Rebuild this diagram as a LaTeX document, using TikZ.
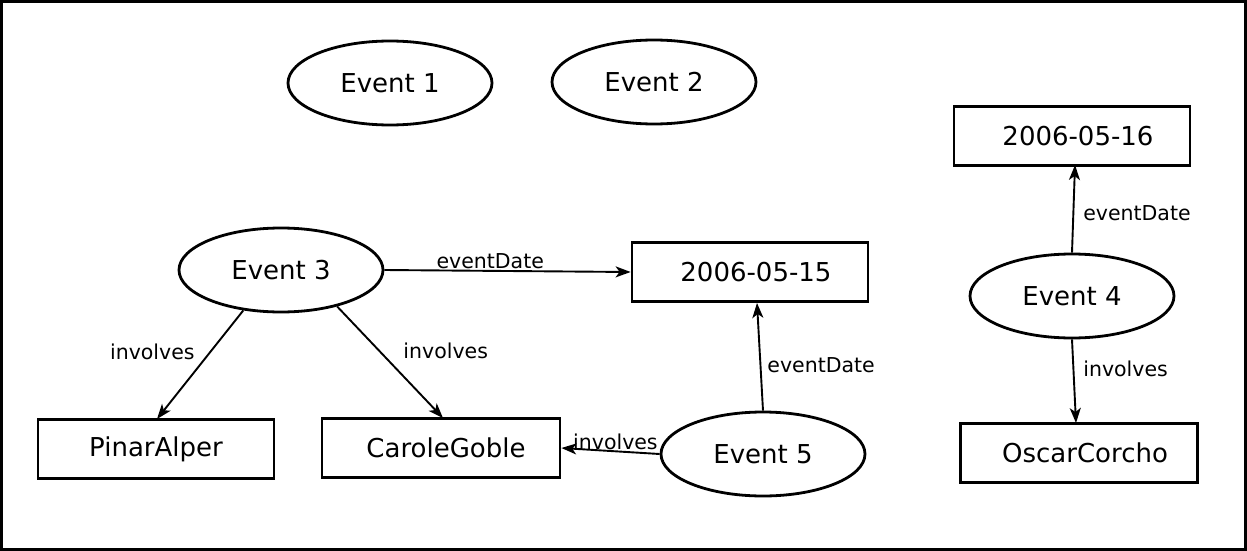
\documentclass[tikz,border=0pt]{standalone}
\usepackage{fontspec}
\setmainfont{DejaVu Sans}
\usetikzlibrary{shapes.geometric,arrows.meta}
\begin{document}
\begin{tikzpicture}[x=1pt,y=-1pt,
  ev/.style={ellipse,draw,line width=2.8pt,minimum width=204pt,minimum height=84pt,inner sep=0pt,font=\fontsize{26}{31}\selectfont},
  lit/.style={rectangle,draw,line width=2.8pt,minimum width=236pt,minimum height=59pt,inner sep=0pt,font=\fontsize{26}{31}\selectfont},
  rel/.style={line width=1.9pt,-{Stealth[length=15pt,width=11pt,inset=4pt]}},
  lab/.style={font=\fontsize{20.5}{24}\selectfont,inner sep=1pt}]
\useasboundingbox (0,0) rectangle (1247,551);
\draw[line width=3pt] (1.5,1.5) rectangle (1245.5,549.5);
\node[ev] (e1) at (390,83) {Event 1};
\node[ev] (e2) at (654,82) {Event 2};
\node[lit] (d16) at (1072,136) {\hspace{12pt}2006-05-16};
\node[ev] (e3) at (281,270) {Event 3};
\node[lit] (d15) at (750,272) {\hspace{12pt}2006-05-15};
\node[ev] (e4) at (1072,296) {Event 4};
\node[lit] (pa) at (156,449) {PinarAlper};
\node[lit,minimum width=238pt] (cg) at (441,448) {\hspace{10pt}CaroleGoble};
\node[ev] (e5) at (763,454) {Event 5};
\node[lit,minimum width=237pt] (oc) at (1079,453) {\hspace{12pt}OscarCorcho};
\coordinate (pat) at (157,419);
\coordinate (cgt) at (443,418);
\coordinate (oct) at (1076,423);
\coordinate (d16b) at (1075,165);
\coordinate (d15b) at (757,303);
\draw[rel] (e3.east) -- node[lab,above,pos=0.43] {eventDate} (d15.west);
\draw[rel] (e3.227) -- node[lab,pos=0.38,left=14pt] {involves} (pat);
\draw[rel] (e3.-33) -- node[lab,pos=0.4,right=22pt] {involves} (cgt);
\draw[rel] (e5.west) -- node[lab,above,pos=0.45] {involves} (cg.east);
\draw[rel] (e5.north) -- node[lab,right=5pt,pos=0.42] {eventDate} (d15b);
\draw[rel] (e4.north) -- node[lab,right=8pt,pos=0.45] {eventDate} (d16b);
\draw[rel] (e4.south) -- node[lab,right=8pt,pos=0.35] {involves} (oct);
\end{tikzpicture}
\end{document}
